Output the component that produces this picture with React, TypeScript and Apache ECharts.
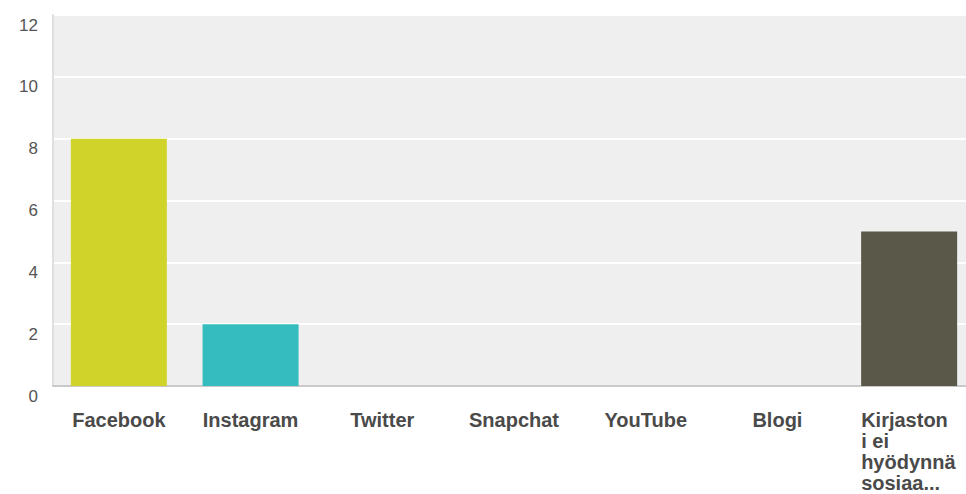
import React, { useEffect, useRef } from "react";
import * as echarts from "echarts";

const categories = ["Facebook", "Instagram", "Twitter", "Snapchat", "YouTube", "Blogi", "Kirjaston i ei hyödynnä sosiaa..."];
const values = [8, 2, 0, 0, 0, 0, 5];
const barColors = ["#cfd32a", "#34bcbf", "#5a5848", "#5a5848", "#5a5848", "#5a5848", "#5a5848"];
const yTicks = [0, 2, 4, 6, 8, 10, 12];
const lastLabelLines = ["Kirjaston", "i ei", "hyödynnä", "sosiaa..."];

export default function App() {
  const ref = useRef<HTMLDivElement>(null);
  useEffect(() => {
    if (!ref.current) return;
    const chart = echarts.init(ref.current, null, { renderer: "svg" });
    chart.setOption({
      animation: false,
      backgroundColor: "#ffffff",
      grid: {
        left: 53,
        top: 15,
        width: 922,
        height: 371,
        show: true,
        containLabel: false,
        outerBoundsMode: "none",
        backgroundColor: "#efefef",
        borderWidth: 0,
      },
      xAxis: {
        type: "category",
        data: categories,
        axisLine: { show: true, lineStyle: { color: "#c9c9c9", width: 2 } },
        axisTick: { show: false },
        axisLabel: {
          interval: 0,
          margin: 23,
          color: "#4a4a4a",
          fontFamily: "Arial, 'Liberation Sans', sans-serif",
          fontWeight: "bold",
          fontSize: 20,
          lineHeight: 21,
          formatter: (v: string, i: number) => {
            if (i === categories.length - 1) {
              return lastLabelLines.map((l) => "{l|" + l + "}").join("\n");
            }
            return v;
          },
          rich: {
            l: {
              width: 96,
              align: "left",
              fontFamily: "Arial, 'Liberation Sans', sans-serif",
              fontWeight: "bold",
              fontSize: 20,
              lineHeight: 21,
              color: "#4a4a4a",
            },
          },
        },
      },
      yAxis: {
        type: "value",
        min: yTicks[0],
        max: yTicks[yTicks.length - 1],
        interval: 2,
        axisLine: { show: true, lineStyle: { color: "#e0e0e0", width: 2 } },
        axisTick: { show: false },
        splitLine: { show: true, lineStyle: { color: "#ffffff", width: 2 } },
        axisLabel: {
          margin: 15,
          color: "#555",
          fontFamily: "Arial, 'Liberation Sans', sans-serif",
          fontSize: 17,
          lineHeight: 20,
          verticalAlign: "top",
        },
      },
      series: [
        {
          type: "bar",
          barWidth: 96,
          data: values.map((v, i) => ({ value: v, itemStyle: { color: barColors[i] } })),
        },
      ],
    });
    return () => chart.dispose();
  }, []);
  return (
    <div
      ref={ref}
      style={{ position: "fixed", left: 0, top: 0, width: 966, height: 494 }}
    />
  );
}
